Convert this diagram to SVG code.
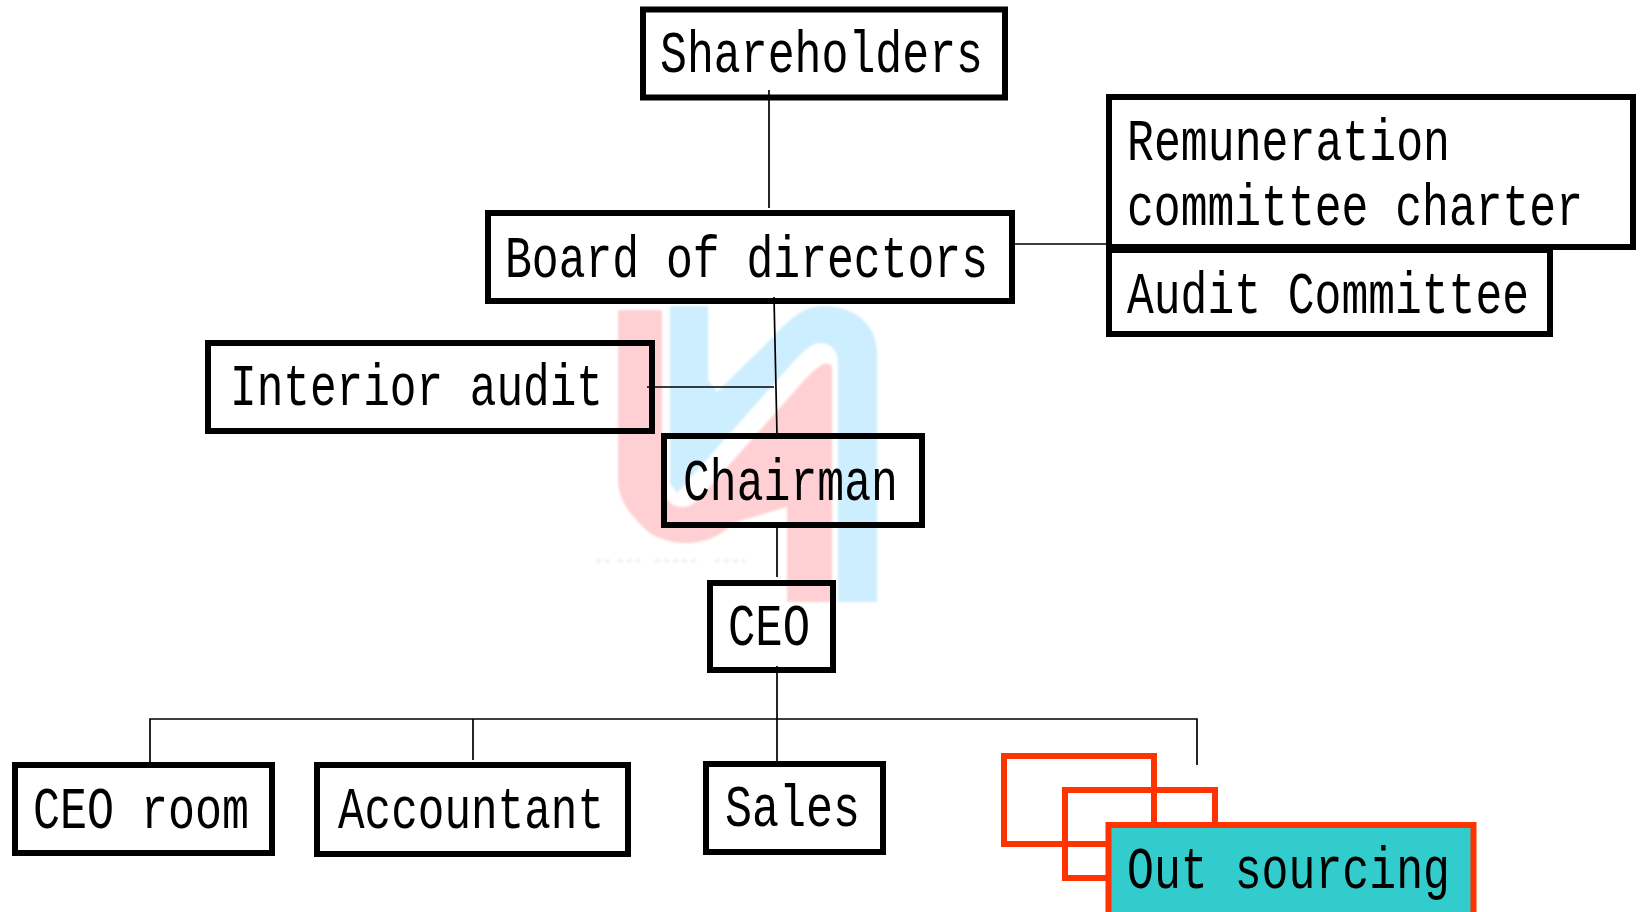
<svg xmlns="http://www.w3.org/2000/svg" width="1641" height="912" viewBox="0 0 1641 912">
<style>
.box{fill:none;stroke:#000;stroke-width:6}
.red{fill:none;stroke:#ff3300;stroke-width:6}
.c{fill:none;stroke:#000;stroke-width:1.7}
text{font-family:"Liberation Mono","DejaVu Sans Mono",monospace;font-size:59px;fill:#000}
</style>
<defs><filter id="soft" x="-5%" y="-5%" width="110%" height="110%"><feGaussianBlur stdDeviation="1"/></filter></defs>
<rect width="1641" height="912" fill="#fff"/>
<g id="watermark" filter="url(#soft)">
<path fill="#cdeefe" d="M670 306H708V380L717 392 773 337C790 318 805 306 823 306 855 306 877 325 877 353V602H838V362C838 350 830 343 820 343 812 343 805 350 795 360L677 493 670 483Z"/>
<path fill="#ffd0d3" d="M618 310H662V480C662 497 670 507 683 507 692 507 698 500 705 492L800 385C815 368 827 358 832 367V602H787V507L733 523C720 537 705 543 687 543 665 543 650 535 643 527 625 510 618 495 618 480Z"/>
<path d="M596 561H610M618 561H640M655 561H700M715 561H745" stroke="#f3f3f3" stroke-width="4" stroke-dasharray="5 4" fill="none"/>
</g>
<g id="connectors">
<path class="c" d="M769 90V208M774 297L777 435M647 387H774M777 527V577M777 666V762M150 762V719H1197V765M473 719V760M1013 244H1107"/>
</g>
<g id="shareholders"><rect class="box" x="643" y="9.500" width="362" height="88"/><text x="660" y="72" textLength="323" lengthAdjust="spacingAndGlyphs">Shareholders</text></g>
<g id="remuneration"><rect class="box" x="1109" y="97" width="524" height="150"/><text x="1127" y="160" textLength="323" lengthAdjust="spacingAndGlyphs">Remuneration</text><text x="1127" y="225" textLength="456" lengthAdjust="spacingAndGlyphs">committee charter</text></g>
<g id="audit-committee"><rect class="box" x="1109" y="250" width="441" height="84"/><text x="1127" y="313" textLength="402" lengthAdjust="spacingAndGlyphs">Audit Committee</text></g>
<g id="board"><rect class="box" x="488" y="213" width="524" height="88"/><text x="505" y="277" textLength="483" lengthAdjust="spacingAndGlyphs">Board of directors</text></g>
<g id="interior-audit"><rect class="box" x="208" y="343" width="444" height="88"/><text x="230" y="405" textLength="373" lengthAdjust="spacingAndGlyphs">Interior audit</text></g>
<g id="chairman"><rect class="box" x="664" y="436" width="258" height="89"/><text x="683" y="500" textLength="215" lengthAdjust="spacingAndGlyphs">Chairman</text></g>
<g id="ceo"><rect class="box" x="710" y="583" width="123" height="87"/><text x="728" y="645" textLength="82" lengthAdjust="spacingAndGlyphs">CEO</text></g>
<g id="ceo-room"><rect class="box" x="15" y="765" width="257" height="88"/><text x="33" y="828" textLength="216" lengthAdjust="spacingAndGlyphs">CEO room</text></g>
<g id="accountant"><rect class="box" x="317" y="765" width="311" height="89"/><text x="338" y="828" textLength="266" lengthAdjust="spacingAndGlyphs">Accountant</text></g>
<g id="sales"><rect class="box" x="706" y="764" width="177" height="88"/><text x="725" y="826" textLength="135" lengthAdjust="spacingAndGlyphs">Sales</text></g>
<g id="outsourcing-back"><rect class="red" x="1004" y="756" width="150" height="88"/><rect class="red" x="1065" y="790" width="150" height="88"/></g>
<g id="out-sourcing"><rect x="1108.500" y="825" width="365" height="95" fill="#33cccc" stroke="#ff3300" stroke-width="6"/><text x="1127" y="888" textLength="323" lengthAdjust="spacingAndGlyphs">Out sourcing</text></g>
</svg>
